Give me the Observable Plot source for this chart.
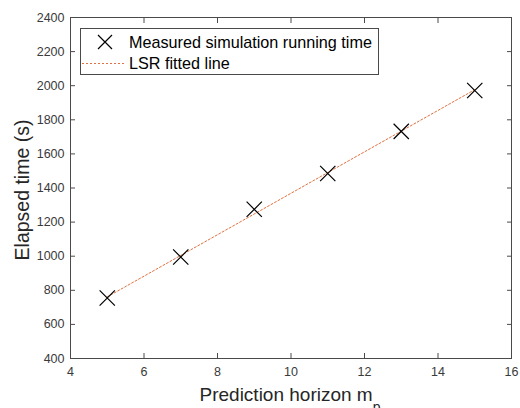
<!DOCTYPE html>
<html>
<head>
<meta charset="utf-8">
<script src="https://cdn.jsdelivr.net/npm/d3@7"></script>
<script src="https://cdn.jsdelivr.net/npm/@observablehq/plot@0.6"></script>
<style>
  html, body { margin: 0; padding: 0; background: #fff; }
  #chart { position: relative; width: 520px; height: 408px; overflow: hidden; }
  svg { font-family: "Liberation Sans", Arial, sans-serif; }
</style>
</head>
<body>
<div id="chart"></div>
<script>
const horizon = [5, 7, 9, 11, 13, 15];
const elapsed = [755, 995, 1275, 1485, 1732, 1972];
const xTicks = [4, 6, 8, 10, 12, 14, 16];
const yTicks = [400, 600, 800, 1000, 1200, 1400, 1600, 1800, 2000, 2200, 2400];
const legendLabels = ["Measured simulation running time", "LSR fitted line"];

const data = horizon.map((h, i) => ({h, t: elapsed[i]}));

// least squares fit from the data
const mx = d3.mean(horizon), my = d3.mean(elapsed);
const slope = d3.sum(horizon, (x, i) => (x - mx) * (elapsed[i] - my)) / d3.sum(horizon, x => (x - mx) ** 2);
const icpt = my - slope * mx;
const fit = [d3.min(horizon), d3.max(horizon)].map(h => ({h, t: icpt + slope * h}));

const ink = "#262626";
const tickInk = "#3a3a3a";
const axisInk = "#4a4a4a";
const fitColor = "#E0703F";
const fmt = d3.format("d");

const plot = Plot.plot({
  width: 520,
  height: 408,
  marginLeft: 70,
  marginRight: 9,
  marginTop: 17,
  marginBottom: 50,
  style: {fontFamily: '"Liberation Sans", Arial, sans-serif', fontSize: "12.5px", color: ink, background: "#fff"},
  x: {domain: [4, 16]},
  y: {domain: [400, 2400]},
  marks: [
    Plot.frame({stroke: axisInk, strokeWidth: 1}),
    Plot.axisX({ticks: xTicks, tickSize: -5, tickPadding: 14, tickFormat: fmt, label: null, stroke: axisInk, fill: tickInk}),
    Plot.axisX({ticks: xTicks, anchor: "top", tickSize: -5, tickFormat: () => "", label: null, stroke: axisInk}),
    Plot.axisY({ticks: yTicks, tickSize: -5, tickPadding: 11, tickFormat: fmt, label: null, stroke: axisInk, fill: tickInk}),
    Plot.axisY({ticks: yTicks, anchor: "right", tickSize: -5, tickFormat: () => "", label: null, stroke: axisInk}),
    Plot.line(fit, {x: "h", y: "t", stroke: fitColor, strokeWidth: 1, strokeDasharray: "2,2"}),
    Plot.dot(data, {x: "h", y: "t", symbol: "times", r: 7, stroke: "#000", strokeWidth: 1.2})
  ]
});
document.getElementById("chart").appendChild(plot);

const svg = d3.select(plot);
// x-axis title with subscript
const xt = svg.append("text")
  .attr("x", 290).attr("y", 401)
  .attr("text-anchor", "middle")
  .attr("font-size", 19).attr("fill", ink);
xt.append("tspan").text("Prediction horizon m");
xt.append("tspan").attr("dy", 11).attr("font-size", 14).text("p");

// y-axis title
svg.append("text")
  .attr("transform", "translate(29,190) rotate(-90)")
  .attr("text-anchor", "middle")
  .attr("font-size", 19.5).attr("fill", ink)
  .text("Elapsed time (s)");

// legend
const lg = svg.append("g").attr("text-anchor", "start");
lg.append("rect").attr("x", 80.5).attr("y", 28.5).attr("width", 298).attr("height", 46)
  .attr("fill", "#fff").attr("stroke", axisInk).attr("stroke-width", 1);
lg.append("path").attr("d", "M98,35L112,49M112,35L98,49").attr("stroke", "#000").attr("stroke-width", 1.2);
lg.append("line").attr("x1", 82).attr("x2", 125).attr("y1", 63.5).attr("y2", 63.5)
  .attr("stroke", fitColor).attr("stroke-width", 1).attr("stroke-dasharray", "2,2");
lg.append("text").attr("x", 129).attr("y", 48).attr("font-size", 16.2).attr("fill", "#000").text(legendLabels[0]);
lg.append("text").attr("x", 129).attr("y", 69).attr("font-size", 16.2).attr("fill", "#000").text(legendLabels[1]);
</script>
</body>
</html>
